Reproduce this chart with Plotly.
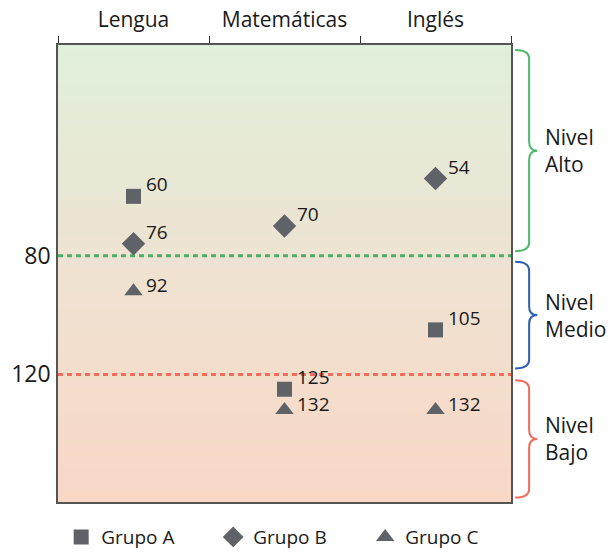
import plotly.graph_objects as go

subjects = ["Lengua", "Matemáticas", "Inglés"]
grupo_a = [60, 125, 105]
grupo_b = [76, 70, 54]
grupo_c = [92, 132, 132]
series_names = ["Grupo A", "Grupo B", "Grupo C"]
thresholds = [80, 120]
level_names = ["Nivel<br>Alto", "Nivel<br>Medio", "Nivel<br>Bajo"]

y_top, y_bot = 9, 163
FONT = "Open Sans"
MARK = "#5f6266"

fig = go.Figure()
symbols = ["square", "diamond", "triangle-up"]
sizes = [15, 18, 16]
label_yshift = [12, 12, 6]
for name, vals, sym, sz, ys in zip(series_names, [grupo_a, grupo_b, grupo_c], symbols, sizes, label_yshift):
    fig.add_trace(go.Scatter(x=subjects, y=vals, mode="markers", name=name,
                             marker=dict(symbol=sym, size=sz, color=MARK, line=dict(width=0))))
    for s, v in zip(subjects, vals):
        fig.add_annotation(x=s, y=v, text=str(v), showarrow=False, xanchor="left", yanchor="middle",
                           xshift=10, yshift=ys, font=dict(family=FONT, size=19, color="#1a1a1a"))

# gradient background
def lerp(c1, c2, t):
    return tuple(round(a + (b - a) * t) for a, b in zip(c1, c2))
stops = [(0.0, (223, 240, 219)), (0.47, (238, 227, 210)), (1.0, (249, 216, 198))]
N = 90
shapes = []
for i in range(N):
    t = (i + 0.5) / N
    for j in range(len(stops) - 1):
        if stops[j][0] <= t <= stops[j + 1][0]:
            tt = (t - stops[j][0]) / (stops[j + 1][0] - stops[j][0])
            c = lerp(stops[j][1], stops[j + 1][1], tt)
            break
    shapes.append(dict(type="rect", xref="paper", yref="paper", x0=0, x1=1,
                       y0=1 - (i + 1) / N, y1=1 - i / N + 0.002, fillcolor="rgb(%d,%d,%d)" % c,
                       line=dict(width=0), layer="below"))

line_colors = ["#48b068", "#f26b5b"]
for v, c in zip(thresholds, line_colors):
    shapes.append(dict(type="line", xref="paper", yref="y", x0=0, x1=1, y0=v, y1=v,
                       line=dict(color=c, width=3, dash="5px,4px"), layer="below"))

# braces
def brace(y0, y1, color):
    xa, xb, xc = 1.009, 1.040, 1.058
    r = 3.0
    ym = (y0 + y1) / 2
    p = (f"M {xa},{y0} Q {xb},{y0} {xb},{y0 + r} L {xb},{ym - r} Q {xb},{ym} {xc},{ym} "
         f"Q {xb},{ym} {xb},{ym + r} L {xb},{y1 - r} Q {xb},{y1} {xa},{y1}")
    return dict(type="path", xref="paper", yref="y", path=p, line=dict(color=color, width=2))

brace_colors = ["#4cb96c", "#2f5fb3", "#f26b5b"]
ranges = [(y_top + 1.7, thresholds[0] - 1.5), (thresholds[0] + 2, thresholds[1] - 2),
          (thresholds[1] + 2, y_bot - 1.5)]
for (a, b), c, lab in zip(ranges, brace_colors, level_names):
    shapes.append(brace(a, b, c))
    fig.add_annotation(x=1.07, xref="paper", y=(a + b) / 2, yref="y", text=lab, showarrow=False,
                       xanchor="left", yanchor="middle", align="left",
                       font=dict(family=FONT, size=21, color="#1a1a1a"))

fig.update_layout(
    width=611, height=552,
    margin=dict(l=58, r=100, t=45, b=50),
    paper_bgcolor="white", plot_bgcolor="white",
    shapes=shapes,
    font=dict(family=FONT, size=20, color="#1a1a1a"),
    showlegend=True,
    legend=dict(orientation="h", x=0.007, xanchor="left", yref="container", y=0.027,
                yanchor="middle",
                font=dict(family=FONT, size=19, color="#1a1a1a"), itemwidth=30,
                entrywidth=107, entrywidthmode="pixels",
                tracegroupgap=0, bgcolor="rgba(0,0,0,0)"),
    xaxis=dict(side="top", type="category", categoryorder="array", categoryarray=subjects,
               range=[-0.5, 2.5], showgrid=False, showline=True, mirror=True, linecolor="#555",
               linewidth=1.5, ticks="outside", tickson="boundaries", ticklen=7, tickcolor="#333",
               tickwidth=1.2, automargin=False, ticklabelstandoff=8,
               tickfont=dict(family=FONT, size=21, color="#1a1a1a")),
    yaxis=dict(range=[y_bot, y_top], tickvals=thresholds, showgrid=False, zeroline=False,
               showline=True, mirror=True, linecolor="#555", linewidth=1.5, ticks="",
               automargin=False, ticklabelstandoff=1,
               tickfont=dict(family=FONT, size=23, color="#1a1a1a")),
)

fig.write_html("out.html", config={"displayModeBar": False},
               post_script="document.body.style.margin='0';")
